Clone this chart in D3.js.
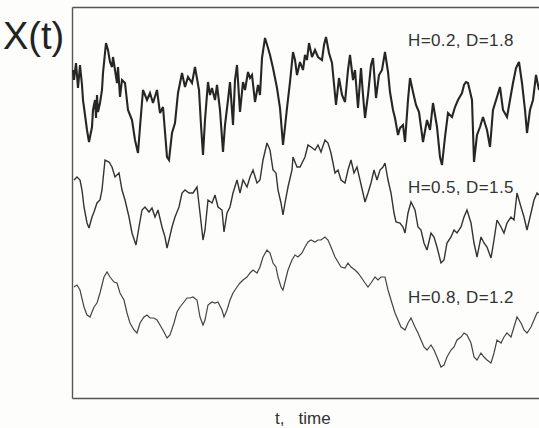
<!DOCTYPE html>
<html>
<head>
<meta charset="utf-8">
<script src="https://cdn.jsdelivr.net/npm/d3@7/dist/d3.min.js"></script>
<style>
  html, body { margin: 0; padding: 0; background: #fdfdfb; }
  svg { display: block; }
  .frame path.domain { stroke: #555; stroke-width: 1.4; }
  .trace { fill: none; stroke-linejoin: miter; stroke-miterlimit: 3; }
  text { font-family: "Liberation Sans", Arial, sans-serif; fill: #333; }
</style>
</head>
<body>
<svg width="539" height="428"></svg>
<script>
// [t, X] samples (t in time steps, X in arbitrary units)
const seriesH02 = [
  [1,328],[2,318],[4,335],[6,310],[8,333],[10,313],[11,298],[13,283],[15,268],[17,256],
  [20,271],[21,288],[23,298],[24,280],[25,303],[26,286],[28,295],[30,308],[31,325],[34,355],
  [36,348],[38,336],[40,331],[41,341],[43,328],[45,315],[46,331],[48,301],[50,318],[53,315],
  [56,288],[60,278],[63,258],[66,245],[68,271],[71,308],[75,298],[78,305],[81,295],[85,308],
  [88,285],[91,291],[95,241],[97,238],[100,265],[103,275],[106,305],[110,325],[113,311],[116,321],
  [120,315],[123,331],[127,308],[129,273],[131,243],[133,278],[136,316],[138,303],[140,310],[143,298],
  [145,313],[148,288],[151,246],[153,273],[156,298],[158,316],[161,273],[163,318],[165,333],[168,286],
  [171,316],[173,308],[176,326],[178,320],[180,323],[183,296],[186,313],[188,303],[190,340],[193,360],
  [196,350],[198,343],[201,330],[205,310],[208,290],[211,253],[213,271],[215,290],[218,316],[221,346],
  [223,338],[225,323],[228,336],[231,328],[233,343],[235,338],[237,355],[240,341],[243,348],[246,341],
  [250,338],[252,353],[254,361],[257,345],[260,335],[264,293],[267,320],[270,303],[273,296],[276,328],
  [278,343],[281,318],[283,328],[286,290],[289,330],[291,303],[293,280],[296,303],[299,333],[301,340],
  [304,300],[307,323],[310,328],[313,346],[316,326],[318,306],[321,288],[323,280],[326,263],[328,270],
  [331,273],[333,256],[336,298],[338,320],[341,306],[344,293],[347,286],[351,256],[355,278],[358,268],
  [361,295],[365,271],[368,241],[370,233],[373,261],[376,285],[380,281],[383,291],[386,298],[390,305],
  [392,313],[394,316],[396,315],[400,298],[402,236],[405,263],[408,271],[411,281],[415,268],[418,251],
  [421,288],[425,301],[428,311],[431,288],[435,281],[438,298],[441,315],[444,330],[447,336],[450,315],
  [453,288],[455,265],[458,288],[461,298],[464,323],[467,308]
];

const seriesH05 = [
  [2,218],[5,221],[8,218],[10,208],[12,191],[15,175],[17,170],[20,181],[22,186],[25,195],
  [28,198],[30,208],[33,238],[37,236],[40,231],[43,221],[47,225],[50,208],[53,198],[57,181],
  [60,165],[64,153],[67,171],[70,188],[73,191],[77,186],[80,190],[83,181],[86,188],[90,171],
  [93,161],[95,150],[97,158],[100,171],[103,181],[107,191],[110,205],[113,208],[117,205],[121,205],
  [125,211],[128,185],[131,158],[133,168],[136,198],[140,195],[143,203],[146,191],[150,188],[152,166],
  [155,185],[158,191],[161,205],[165,218],[168,205],[171,218],[175,211],[178,221],[181,228],[185,215],
  [188,218],[191,238],[195,255],[198,248],[201,228],[204,225],[206,208],[209,195],[211,183],[213,195],
  [216,211],[220,228],[221,241],[225,231],[228,231],[233,241],[236,253],[239,251],[243,248],[246,253],
  [249,246],[253,258],[256,255],[259,245],[263,225],[266,228],[269,218],[273,215],[276,228],[279,238],
  [282,225],[285,231],[288,218],[291,205],[293,196],[296,205],[299,215],[302,228],[305,218],[308,228],
  [311,231],[313,235],[316,218],[319,205],[322,185],[324,176],[328,175],[331,171],[333,165],[336,185],
  [339,196],[343,188],[346,171],[349,168],[352,155],[355,148],[359,165],[362,161],[365,151],[369,135],
  [372,138],[375,155],[379,161],[382,168],[385,165],[389,171],[392,181],[395,188],[399,175],[402,155],
  [405,141],[409,161],[412,155],[415,151],[419,140],[422,158],[425,178],[429,171],[432,165],[435,175],
  [439,181],[442,178],[445,205],[449,191],[452,181],[455,168],[459,185],[462,198],[465,205],[467,203]
];

const seriesH08 = [
  [2,111],[5,113],[8,108],[12,91],[15,83],[18,81],[22,91],[25,95],[28,105],[32,121],
  [35,126],[38,121],[42,116],[45,115],[48,105],[52,98],[55,85],[58,75],[62,68],[65,65],
  [68,75],[72,81],[75,83],[78,80],[82,80],[85,78],[88,73],[92,66],[95,60],[98,63],
  [102,75],[105,86],[108,91],[112,96],[115,100],[118,100],[121,101],[125,98],[128,81],[131,73],
  [133,78],[136,93],[140,96],[143,95],[146,96],[150,88],[152,81],[155,88],[158,98],[161,105],
  [165,111],[168,115],[171,118],[175,121],[178,125],[181,128],[185,125],[188,131],[191,141],[195,148],
  [198,145],[201,135],[204,131],[206,121],[209,111],[211,108],[213,116],[216,128],[220,138],[223,143],
  [226,141],[230,145],[233,151],[236,156],[239,158],[243,156],[246,158],[249,158],[253,161],[256,158],
  [259,151],[263,141],[266,136],[269,131],[273,130],[276,135],[279,131],[283,128],[286,125],[289,121],
  [293,115],[296,111],[299,115],[303,121],[306,118],[309,121],[313,121],[316,108],[319,98],[323,85],
  [326,78],[329,71],[333,68],[336,75],[339,80],[343,71],[346,65],[349,58],[352,51],[355,48],
  [359,53],[362,48],[365,41],[369,31],[372,33],[375,41],[379,48],[382,51],[385,58],[389,61],
  [392,65],[395,63],[399,55],[402,41],[405,38],[409,45],[412,41],[415,38],[419,35],[422,45],
  [425,58],[429,55],[432,61],[435,65],[439,61],[442,71],[445,81],[449,75],[452,68],[455,65],
  [459,71],[462,78],[465,85],[467,86]
];

const seriesLabels = ["H=0.2, D=1.8", "H=0.5, D=1.5", "H=0.8, D=1.2"];
const tDomain = [0, 467];
const xDomain = [0, 391];

const svg = d3.select("svg");
const margin = { top: 7, right: 0, bottom: 30, left: 72 };
const width = 539, height = 428;

const x = d3.scaleLinear().domain(tDomain).range([margin.left, width - margin.right]);
const y = d3.scaleLinear().domain(xDomain).range([height - margin.bottom, margin.top]);

// frame: left, top and bottom lines only (right edge is cut off)
svg.append("g").attr("class", "frame")
  .attr("transform", `translate(0,${y(0)})`)
  .call(d3.axisBottom(x).tickValues([]).tickSizeOuter(0));
svg.append("g").attr("class", "frame")
  .attr("transform", `translate(0,${y(xDomain[1])})`)
  .call(d3.axisTop(x).tickValues([]).tickSizeOuter(0));
svg.append("g").attr("class", "frame")
  .attr("transform", `translate(${x(0)},0)`)
  .call(d3.axisLeft(y).tickValues([]).tickSizeOuter(0));

const line = d3.line().x(d => x(d[0])).y(d => y(d[1]));

// the rough trace is printed as a heavy band, the smooth one as a thin line
const traces = [
  { data: seriesH02, color: "#262626", w: 2.1 },
  { data: seriesH05, color: "#333", w: 1.4 },
  { data: seriesH08, color: "#444", w: 1.2 }
];

svg.selectAll("path.trace")
  .data(traces)
  .enter().append("path")
  .attr("class", "trace")
  .attr("d", d => line(d.data))
  .attr("stroke", d => d.color)
  .attr("stroke-width", d => d.w);

// series labels
const labelPos = [[336, 352], [336, 205], [336, 95]];
svg.selectAll("text.lab")
  .data(seriesLabels)
  .enter().append("text")
  .attr("class", "lab")
  .attr("x", (d, i) => x(labelPos[i][0]))
  .attr("y", (d, i) => y(labelPos[i][1]))
  .attr("font-size", 17)
  .attr("letter-spacing", 0.4)
  .text(d => d);

svg.append("text")
  .attr("x", 3).attr("y", 49)
  .attr("font-size", 38)
  .style("fill", "#222")
  .text("X(t)");

svg.append("text")
  .attr("x", 275).attr("y", 424)
  .attr("font-size", 17)
  .attr("xml:space", "preserve")
  .style("white-space", "pre")
  .text("t,   time");
</script>
</body>
</html>
